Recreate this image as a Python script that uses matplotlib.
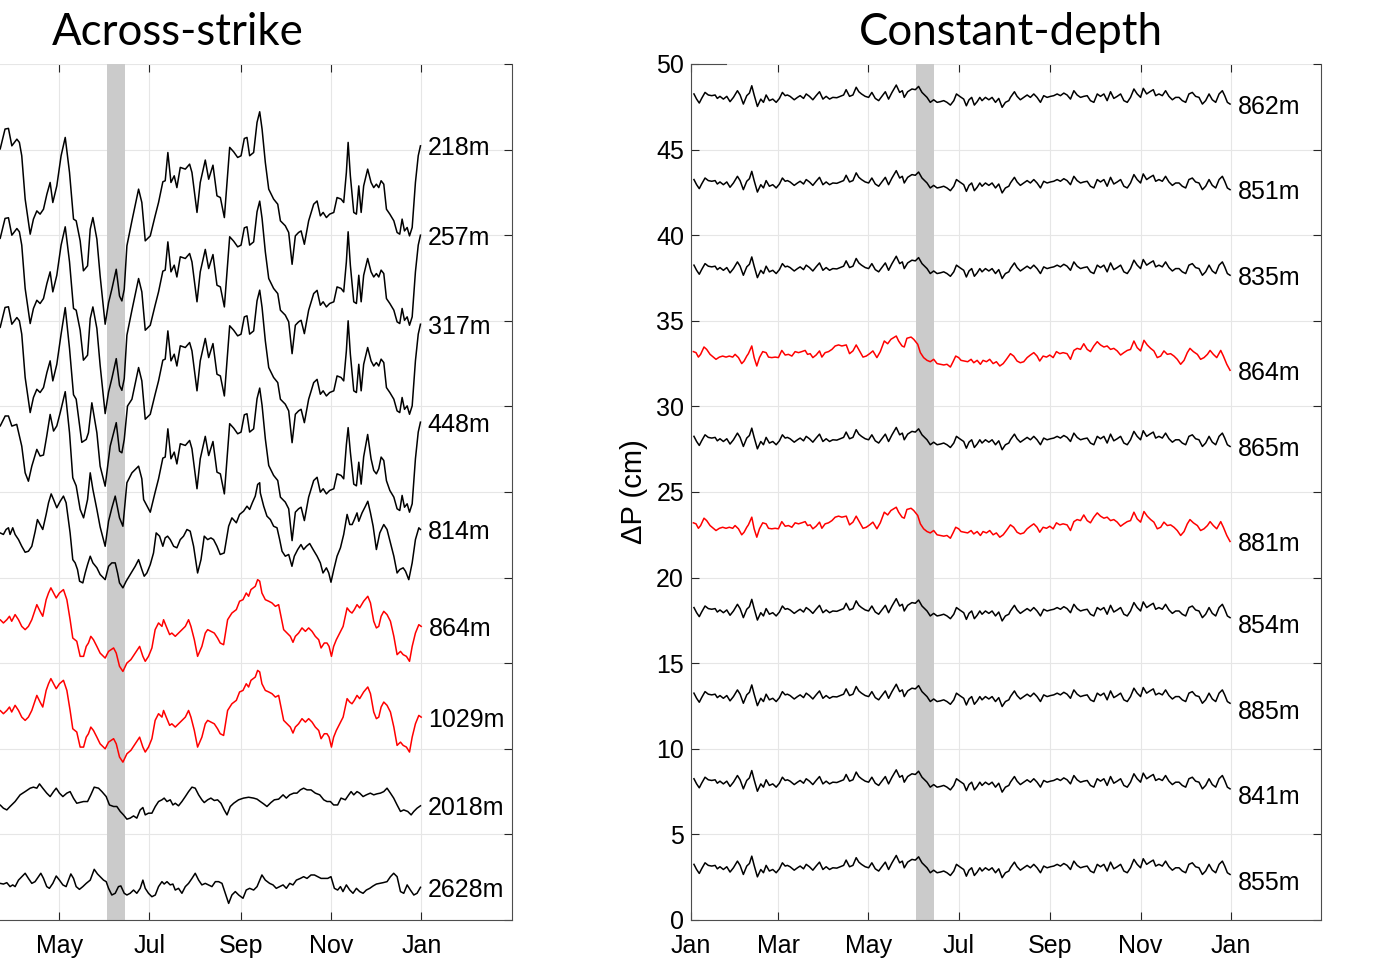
import numpy as np
import matplotlib
matplotlib.use("Agg")
import matplotlib.pyplot as plt

# ---------------- axis / calendar ----------------
month_ticks = [0, 59, 120, 181, 243, 304, 365]
month_labels = ["Jan", "Mar", "May", "Jul", "Sep", "Nov", "Jan"]
event_window = (152.4, 164.6)          # shaded event (day of year)
dp_ticks = list(range(0, 51, 5))

# ---------------- Across-strike section ----------------
# upper-slope signal (day, dP anomaly in cm), shared by 218 m and 257 m
upper_218 = [
    (75, 4.9), (80.1, 5.03), (83.4, 6.2), (85.7, 6.24), (88.0, 5.22), (91.4, 5.61), (93.1, 5.42),
    (94.7, 4.64), (97.0, 2.11), (100.4, 0.06), (102.6, 0.94), (104.9, 1.42), (107.1, 1.23),
    (109.4, 1.52), (111.7, 2.4), (113.9, 3.08), (115.7, 1.91), (118.4, 2.88), (121.3, 4.64),
    (124.1, 5.71), (127.0, 3.66), (129.7, 0.94), (131.5, 0.84), (134.2, -0.33), (136.4, -2.08),
    (139.2, -1.79), (141.0, 0.35), (142.8, 1.03), (145.5, -0.23), (147.7, -2.38), (151.1, -5.2),
    (153.4, -3.94), (155.6, -3.16), (158.6, -1.99), (160.8, -3.55), (162.4, -3.84), (164.0, -3.16),
    (165.8, -0.62), (169.2, 0.84), (173.7, 2.69), (175.9, 1.91), (178.2, -0.33), (181.6, -0.04),
    (184.9, 1.13), (187.2, 1.91), (190.1, 3.12), (191.7, 3.18), (193.5, 4.83), (195.6, 3.08),
    (197.8, 3.47), (199.6, 2.78), (201.9, 3.96), (205.3, 3.86), (208.2, 4.15), (209.8, 3.66),
    (213.2, 1.33), (215.4, 3.08), (218.8, 4.39), (221.1, 3.27), (224.0, 4.09), (226.7, 2.3),
    (229.0, 2.2), (231.7, 1.03), (235.3, 5.13), (238.0, 4.87), (240.7, 4.54), (243.0, 4.64),
    (245.2, 5.65), (247.0, 5.71), (248.8, 4.64), (251.5, 4.83), (253.8, 6.59), (255.6, 7.21),
    (257.2, 6.2), (259.4, 4.25), (261.7, 2.69), (265.0, 2.11), (267.8, 1.81), (269.6, 0.84),
    (272.9, 0.55), (275.2, 0.16), (277.5, -1.7), (279.7, -0.04), (281.9, 0.16), (283.6, 0.25),
    (285.8, -0.53), (288.7, 0.84), (292.1, 1.81), (294.4, 2.0), (296.6, 1.13), (298.5, 1.33),
    (300.7, 1.03), (302.9, 1.23), (305.7, 1.33), (307.9, 2.2), (310.6, 2.11), (312.4, 1.91),
    (314.2, 3.66), (315.4, 5.42), (316.9, 3.47), (319.2, 1.33), (321.0, 1.23), (322.6, 2.88),
    (324.2, 1.33), (325.9, 2.88), (328.6, 3.86), (330.9, 3.08), (332.7, 2.78), (334.5, 2.98),
    (336.1, 2.78), (337.7, 3.18), (339.5, 2.98), (341.3, 1.52), (343.6, 1.23), (346.3, 0.84),
    (348.5, 0.16), (350.3, 0.06), (351.9, 0.94), (353.5, 0.25), (355.3, 0.45), (356.9, -0.04),
    (358.7, 0.45), (360.9, 3.08), (362.8, 4.64), (364.3, 5.22),
]

upper_317 = [
    (75, 4.9), (80.1, 5.03), (83.4, 6.2), (85.7, 6.24), (88.0, 5.22), (91.4, 5.61), (93.1, 5.42),
    (94.7, 4.64), (97.0, 2.11), (100.4, 0.06), (102.6, 0.94), (104.9, 1.42), (107.1, 1.23),
    (109.4, 1.52), (111.7, 2.4), (113.9, 3.08), (115.7, 1.91), (118.4, 2.88), (121.3, 4.64),
    (124.1, 6.19), (127.0, 3.8), (129.7, 1.1), (131.5, 0.84), (135.3, -1.68), (138.3, -1.51),
    (139.8, -1.12), (142.1, 0.63), (145.5, -1.12), (147.7, -3.07), (151.1, -4.24), (154.5, -1.9),
    (158.6, -0.53), (160.8, -2.19), (162.4, -2.29), (164.0, -1.51), (166.2, 0.44), (169.2, 0.84),
    (173.7, 2.69), (175.9, 1.91), (178.2, -0.33), (181.6, -0.04),
    (184.9, 1.13), (187.2, 1.91), (190.1, 3.12), (191.7, 3.18), (193.5, 4.83), (195.6, 3.08),
    (197.8, 3.47), (199.6, 2.78), (201.9, 3.96), (205.3, 3.86), (208.2, 4.15), (209.8, 3.66),
    (213.2, 1.33), (215.4, 3.08), (218.8, 4.39), (221.1, 3.27), (224.0, 4.09), (226.7, 2.3),
    (229.0, 2.2), (231.7, 1.03), (235.3, 5.13), (238.0, 4.87), (240.7, 4.54), (243.0, 4.64),
    (245.2, 5.65), (247.0, 5.71), (248.8, 4.64), (251.5, 4.83), (253.8, 6.59), (255.6, 7.21),
    (257.2, 6.2), (259.4, 4.25), (261.7, 2.69), (265.0, 2.11), (267.8, 1.81), (269.6, 0.84),
    (272.9, 0.55), (275.2, 0.16), (277.5, -1.7), (279.7, -0.04), (281.9, 0.16), (283.6, 0.25),
    (285.8, -0.53), (288.7, 0.84), (292.1, 1.81), (294.4, 2.0), (296.6, 1.13), (298.5, 1.33),
    (300.7, 1.03), (302.9, 1.23), (305.7, 1.33), (307.9, 2.2), (310.6, 2.11), (312.4, 1.91),
    (314.2, 3.66), (315.4, 5.42), (316.9, 3.47), (319.2, 1.33), (321.0, 1.23), (322.6, 2.88),
    (324.2, 1.33), (325.9, 2.88), (328.6, 3.86), (330.9, 3.08), (332.7, 2.78), (334.5, 2.98),
    (336.1, 2.78), (337.7, 3.18), (339.5, 2.98), (341.3, 1.52), (343.6, 1.23), (346.3, 0.84),
    (348.5, 0.16), (350.3, 0.06), (351.9, 0.94), (353.5, 0.25), (355.3, 0.45), (356.9, -0.04),
    (358.7, 0.45), (360.9, 3.08), (362.8, 4.64), (364.3, 5.22),
]

upper_448 = [
    (75, 4.9), (80.1, 4.99), (83.5, 5.58), (85.7, 5.58), (88.0, 4.99), (91.3, 5.09), (94.7, 3.82),
    (97.0, 2.26), (99.2, 1.77), (101.5, 2.65), (104.9, 3.63), (107.1, 3.24), (109.4, 3.3),
    (111.6, 4.41), (113.9, 5.67), (116.2, 4.7), (118.4, 5.0), (120.7, 5.77), (124.1, 7.0),
    (127.0, 4.6), (129.2, 1.97), (131.5, 1.5), (134.2, 0.12), (136.5, -0.37), (139.2, 0.7),
    (141.0, 2.26), (142.8, 1.29), (145.5, 0.12), (147.7, -0.9), (151.1, -2.03), (153.4, -0.56),
    (155.6, 0.2), (157.9, 0.9), (160.8, -0.37), (163.1, -0.86), (165.8, 1.68), (169.2, 2.26),
    (173.7, 2.65), (175.9, 1.91), (177.1, 0.7), (181.6, -0.04),
    (184.9, 1.13), (187.2, 1.91), (190.1, 3.12), (191.7, 3.18), (193.5, 4.83), (195.6, 3.08),
    (197.8, 3.47), (199.6, 2.78), (201.9, 3.96), (205.3, 3.86), (208.2, 4.15), (209.8, 3.66),
    (213.2, 1.33), (215.4, 3.08), (218.8, 4.39), (221.1, 3.27), (224.0, 4.09), (226.7, 2.3),
    (229.0, 2.2), (231.7, 1.03), (235.3, 5.13), (238.0, 4.87), (240.7, 4.54), (243.0, 4.64),
    (245.2, 5.65), (247.0, 5.71), (248.8, 4.64), (251.5, 4.83), (253.8, 6.59), (255.6, 7.21),
    (257.2, 6.2), (259.4, 4.25), (261.7, 2.69), (265.0, 2.11), (267.8, 1.81), (269.6, 0.84),
    (272.9, 0.55), (275.2, 0.16), (277.5, -1.7), (279.7, -0.04), (281.9, 0.16), (283.6, 0.25),
    (285.8, -0.53), (288.7, 0.84), (292.1, 1.81), (294.4, 2.0), (296.6, 1.13), (298.5, 1.33),
    (300.7, 1.03), (302.9, 1.23), (305.7, 1.33), (307.9, 2.2), (310.6, 2.11), (312.4, 1.91),
    (314.2, 3.9), (315.4, 4.9), (316.9, 3.47), (319.2, 1.6), (321.0, 1.5), (322.6, 2.88),
    (324.2, 1.6), (325.9, 3.2), (328.6, 4.5), (330.9, 3.08), (332.7, 2.4), (334.5, 2.2),
    (336.1, 2.5), (337.7, 3.18), (339.5, 2.98), (341.3, 1.8), (343.6, 1.23), (346.3, 0.84),
    (348.5, 0.16), (350.3, 0.06), (351.9, 0.94), (353.5, 0.25), (355.3, 0.45), (356.9, -0.04),
    (358.7, 0.45), (360.9, 3.08), (362.8, 4.64), (364.3, 5.22),
]

slope_814 = [
    (75, 22.6), (80.1, 22.61), (82.3, 22.52), (84.1, 22.81), (85.7, 22.91), (86.8, 22.52),
    (88.6, 22.91), (90.2, 22.52), (92.5, 22.22), (94.7, 21.83), (97.0, 21.48), (99.2, 21.54),
    (101.5, 21.83), (103.8, 22.71), (105.3, 23.39), (107.1, 23.1), (108.9, 22.81), (111.2, 23.69),
    (112.8, 24.37), (114.6, 24.89), (116.2, 24.56), (118.4, 24.08), (120.7, 24.46), (122.9, 24.76),
    (124.7, 24.37), (127.4, 22.61), (129.2, 21.05), (130.8, 20.86), (132.4, 20.47), (133.8, 19.79),
    (136.0, 19.69), (137.6, 20.27), (139.2, 20.76), (141.0, 21.25), (142.8, 20.86), (145.5, 20.57),
    (147.7, 20.18), (151.1, 19.88), (153.4, 20.66), (155.6, 20.86), (157.9, 20.86), (159.5, 20.27),
    (160.8, 19.69), (163.1, 19.4), (165.3, 19.79), (168.0, 20.18), (171.4, 20.66), (173.7, 21.05),
    (175.9, 20.47), (177.5, 20.08), (179.3, 20.27), (181.6, 20.76), (183.8, 21.44), (185.6, 22.61),
    (187.9, 22.42), (190.1, 21.83), (191.7, 22.32), (193.3, 22.42), (195.1, 22.22), (197.4, 21.83),
    (199.6, 21.74), (201.9, 22.22), (204.1, 22.42), (206.4, 22.81), (208.6, 22.71), (210.9, 21.83),
    (213.6, 20.27), (215.9, 21.05), (218.1, 22.42), (220.4, 22.22), (222.6, 22.32), (224.4, 22.22),
    (226.7, 21.83), (228.9, 21.35), (231.6, 21.44), (234.6, 23.0), (236.8, 23.49), (239.8, 23.2),
    (242.0, 23.69), (244.7, 23.88), (247.0, 24.17), (248.8, 23.98), (250.6, 24.37), (252.6, 24.76),
    (254.2, 25.44), (255.6, 25.54), (256.0, 24.95), (258.3, 24.17), (260.5, 23.59), (262.8, 23.39),
    (265.0, 23.0), (267.3, 22.91), (269.1, 22.22), (270.7, 21.54), (272.9, 21.25), (275.2, 21.35),
    (277.4, 20.66), (279.0, 21.25), (281.3, 21.64), (283.5, 21.93), (285.3, 21.64), (287.2, 21.83),
    (289.4, 21.99), (291.7, 21.64), (294.4, 21.25), (296.6, 20.86), (298.4, 20.27), (300.7, 20.57),
    (302.3, 20.27), (303.8, 19.73), (305.7, 20.47), (307.9, 21.25), (310.2, 21.74), (312.4, 22.52),
    (314.7, 23.69), (316.5, 23.1), (318.1, 23.1), (319.6, 23.39), (321.4, 23.78), (322.6, 23.29),
    (324.8, 23.78), (327.1, 24.17), (328.7, 24.46), (330.5, 23.78), (332.3, 23.0), (334.5, 21.64),
    (336.8, 22.61), (339.5, 23.1), (341.7, 22.81), (344.0, 22.03), (346.3, 21.25), (348.5, 20.27),
    (350.3, 20.47), (352.6, 20.57), (354.2, 20.37), (356.4, 19.88), (358.7, 20.86), (360.9, 22.22),
    (363.2, 22.91), (364.3, 22.81),
]

mid_slope_864 = [
    (75, 17.5), (80.1, 17.54), (82.3, 17.35), (84.6, 17.54), (86.4, 17.74), (87.9, 17.45),
    (90.2, 17.84), (92.5, 17.54), (94.7, 17.15), (97.0, 16.96), (99.2, 17.15), (101.5, 17.54),
    (104.9, 18.42), (107.1, 18.03), (108.9, 17.74), (111.2, 18.71), (112.8, 19.1), (114.4, 19.4),
    (116.2, 19.1), (118.0, 18.81), (120.2, 19.1), (122.9, 19.3), (125.2, 18.71), (127.4, 17.54),
    (129.2, 16.47), (131.9, 16.28), (134.2, 15.4), (136.5, 15.4), (138.3, 15.98), (139.8, 16.18),
    (141.4, 16.57), (143.2, 16.37), (145.5, 15.98), (147.7, 15.59), (151.1, 15.3), (153.4, 15.69),
    (156.8, 15.89), (158.6, 15.59), (160.8, 14.82), (163.1, 14.52), (165.8, 15.01), (168.5, 15.21),
    (171.4, 15.59), (174.4, 15.98), (176.6, 15.4), (178.2, 15.11), (180.4, 15.4), (182.7, 15.89),
    (184.9, 16.96), (187.2, 17.35), (189.5, 17.15), (190.6, 17.54), (192.4, 17.15), (194.7, 16.67),
    (196.2, 16.76), (198.5, 16.57), (201.9, 16.86), (205.3, 17.15), (207.5, 17.54), (209.1, 17.15),
    (211.4, 16.37), (213.6, 15.4), (216.5, 15.98), (218.8, 16.76), (220.4, 16.96), (222.6, 16.86),
    (224.9, 16.76), (227.1, 16.47), (228.9, 16.18), (231.2, 16.08), (233.9, 17.54), (236.8, 17.93),
    (239.8, 18.13), (242.0, 18.62), (244.3, 18.71), (246.5, 19.1), (248.1, 18.91), (249.7, 19.3),
    (252.6, 19.49), (254.2, 19.88), (255.6, 19.79), (257.1, 19.1), (259.4, 18.71), (261.7, 18.62),
    (263.9, 18.52), (266.2, 18.32), (268.4, 18.42), (270.0, 17.74), (271.8, 16.96), (274.1, 16.76),
    (276.3, 16.57), (278.1, 16.22), (279.7, 16.57), (281.9, 16.76), (284.2, 17.06), (286.5, 16.86),
    (288.7, 17.06), (291.0, 16.86), (293.2, 16.57), (295.5, 16.37), (297.1, 15.89), (299.3, 16.18),
    (301.1, 16.18), (302.5, 15.98), (304.1, 15.4), (305.6, 15.98), (307.4, 16.37), (309.7, 16.76),
    (312.0, 17.15), (314.7, 18.23), (316.5, 18.03), (318.0, 17.93), (319.6, 18.13), (321.4, 18.42),
    (323.2, 18.23), (325.9, 18.62), (328.7, 18.91), (330.5, 18.52), (332.7, 17.45), (334.5, 17.06),
    (336.1, 17.15), (337.7, 17.74), (339.5, 18.03), (341.7, 17.84), (344.0, 17.45), (346.3, 16.57),
    (348.5, 15.5), (350.8, 15.69), (352.6, 15.5), (354.8, 15.4), (356.9, 15.11), (358.7, 15.98),
    (360.9, 16.76), (363.2, 17.25), (364.8, 17.15),
]
mid_depths = ["864m", "1029m"]
mid_offsets = [0.0, -5.3]

deep_2018 = [
    (75, 6.7), (80.1, 6.72), (82.3, 6.53), (84.6, 6.43), (86.8, 6.63), (90.2, 6.92), (93.6, 7.31),
    (97.0, 7.5), (100.4, 7.7), (102.6, 7.76), (104.9, 7.7), (106.7, 7.95), (108.9, 7.7),
    (111.6, 7.41), (113.9, 7.21), (116.2, 7.5), (118.0, 7.7), (120.2, 7.41), (122.5, 7.21),
    (125.2, 7.41), (127.4, 7.5), (129.7, 7.11), (131.9, 6.82), (136.5, 6.92), (139.2, 6.92),
    (141.4, 7.31), (143.7, 7.76), (146.6, 7.7), (148.9, 7.5), (151.8, 7.21), (154.0, 6.72),
    (156.8, 6.63), (159.0, 6.63), (161.3, 6.34), (163.5, 6.14), (165.8, 5.89), (168.0, 5.95),
    (170.3, 6.08), (172.5, 5.95), (174.8, 6.43), (176.6, 6.57), (178.2, 6.14), (180.4, 6.24),
    (182.7, 6.24), (185.0, 6.63), (187.2, 6.92), (189.5, 7.02), (191.0, 7.12), (192.9, 6.92),
    (195.1, 7.02), (196.9, 6.72), (198.5, 6.82), (200.7, 6.67), (203.0, 6.92), (205.3, 7.21),
    (207.5, 7.5), (209.8, 7.76), (212.0, 7.7), (214.3, 7.31), (216.5, 7.02), (218.1, 6.86),
    (220.4, 7.02), (222.6, 7.12), (224.9, 6.98), (227.1, 7.02), (229.4, 6.82), (231.6, 6.43),
    (233.5, 6.14), (235.7, 6.63), (238.0, 6.82), (241.3, 7.02), (244.7, 7.12), (248.1, 7.17),
    (251.5, 7.12), (253.8, 7.06), (256.0, 6.92), (258.3, 6.78), (260.5, 6.63), (263.2, 6.86),
    (265.5, 7.02), (268.4, 7.06), (271.4, 7.31), (273.6, 7.12), (275.9, 7.31), (278.6, 7.41),
    (280.8, 7.41), (283.1, 7.6), (285.3, 7.7), (287.6, 7.6), (290.3, 7.6), (293.2, 7.41),
    (296.2, 7.31), (298.9, 7.02), (301.1, 6.92), (303.4, 6.92), (305.6, 6.72), (308.3, 6.72),
    (310.6, 7.12), (313.5, 7.02), (315.8, 7.31), (317.4, 7.5), (319.2, 7.31), (321.4, 7.5),
    (323.2, 7.41), (325.5, 7.21), (327.7, 7.31), (330.4, 7.41), (332.7, 7.31), (334.9, 7.37),
    (337.2, 7.41), (339.5, 7.5), (341.7, 7.7), (344.0, 7.41), (346.2, 7.12), (348.5, 6.72),
    (350.8, 6.34), (353.0, 6.43), (355.7, 6.34), (358.0, 6.14), (359.8, 6.34), (362.0, 6.53),
    (364.3, 6.67),
]

deep_2628 = [
    (75, 2.1), (80.1, 2.14), (82.3, 2.1), (84.6, 2.18), (86.8, 1.95), (88.6, 2.05), (90.2, 1.95),
    (92.5, 2.33), (94.7, 2.53), (97.0, 2.73), (99.2, 2.43), (101.5, 2.14), (103.7, 2.24),
    (106.0, 2.53), (107.6, 2.73), (109.4, 2.43), (111.6, 1.95), (113.4, 1.85), (115.7, 2.14),
    (118.0, 2.57), (120.2, 2.33), (122.5, 2.05), (124.7, 1.95), (126.3, 2.33), (127.9, 2.69),
    (129.7, 2.43), (131.5, 1.95), (133.7, 1.79), (136.0, 1.95), (138.3, 2.14), (141.0, 2.33),
    (143.7, 2.96), (145.9, 2.69), (147.7, 2.53), (150.0, 2.33), (151.8, 2.24), (153.4, 1.85),
    (155.6, 1.46), (157.9, 1.56), (160.1, 1.95), (161.7, 1.99), (164.0, 1.56), (165.8, 1.46),
    (168.0, 1.56), (170.3, 1.75), (172.5, 1.56), (174.8, 1.85), (176.6, 2.33), (178.2, 1.85),
    (180.4, 1.56), (182.7, 1.36), (185.0, 1.46), (187.2, 1.95), (189.5, 2.24), (191.0, 2.1),
    (192.9, 2.24), (195.1, 2.05), (196.9, 2.1), (198.5, 1.75), (200.7, 1.85), (203.0, 1.56),
    (205.3, 1.95), (207.5, 2.14), (209.8, 2.43), (212.0, 2.73), (214.3, 2.33), (216.5, 2.05),
    (218.8, 2.14), (221.0, 2.05), (223.3, 1.95), (225.6, 2.24), (227.8, 2.24), (230.1, 2.14),
    (232.3, 1.56), (234.6, 0.97), (236.8, 1.46), (239.1, 1.66), (241.4, 1.46), (244.3, 1.27),
    (246.5, 1.75), (248.8, 1.85), (251.5, 1.75), (253.8, 1.95), (255.6, 2.33), (257.1, 2.63),
    (259.4, 2.33), (262.3, 2.14), (264.6, 2.05), (266.8, 1.85), (269.1, 1.95), (271.4, 2.05),
    (273.6, 1.85), (275.9, 2.14), (278.1, 2.05), (280.4, 2.33), (283.1, 2.43), (285.3, 2.53),
    (287.6, 2.43), (290.3, 2.63), (292.6, 2.63), (294.8, 2.53), (297.1, 2.43), (299.3, 2.43),
    (301.6, 2.43), (303.8, 2.53), (306.1, 1.85), (308.3, 1.75), (310.2, 1.95), (311.9, 1.66),
    (314.2, 2.05), (316.5, 1.75), (318.7, 1.56), (321.0, 1.85), (323.2, 1.66), (325.5, 1.56),
    (327.7, 1.75), (330.0, 1.85), (332.3, 1.99), (334.5, 2.1), (336.8, 2.14), (339.0, 2.18),
    (341.7, 2.24), (344.0, 2.53), (346.2, 2.73), (348.5, 2.53), (350.8, 1.66), (353.0, 1.56),
    (355.3, 2.05), (357.5, 1.75), (359.8, 1.46), (362.0, 1.56), (364.3, 1.91),
]

# ---------------- Constant-depth section ----------------
# common signal at ~850 m (day, dP anomaly in cm)
const_black = [
    (2.0, 0.25), (3.8, -0.05), (5.6, -0.28), (7.2, -0.01), (9.5, 0.34), (11.7, 0.19), (14.0, 0.15),
    (16.3, 0.19), (17.8, -0.01), (19.6, 0.11), (21.9, -0.05), (24.2, 0.11), (26.4, -0.20),
    (28.7, 0.05), (31.4, 0.44), (33.2, 0.19), (35.4, -0.34), (37.7, 0.15), (39.5, 0.30),
    (41.1, 0.73), (42.7, 0.19), (44.9, -0.48), (47.2, -0.05), (49.0, -0.24), (50.8, 0.19),
    (53.0, -0.14), (55.3, -0.05), (57.6, -0.24), (59.8, -0.01), (61.8, 0.34), (63.7, 0.15),
    (65.2, 0.19), (67.0, 0.11), (69.8, -0.09), (72.0, 0.05), (73.8, 0.15), (76.1, -0.01),
    (77.9, 0.25), (80.1, 0.11), (82.4, -0.09), (84.6, 0.15), (86.9, 0.38), (89.2, -0.05),
    (91.4, 0.11), (93.7, -0.05), (95.9, 0.05), (98.6, 0.03), (100.9, 0.11), (103.2, 0.19),
    (104.9, 0.50), (107.2, 0.11), (109.5, 0.19), (111.7, 0.64), (113.5, 0.38), (115.3, 0.25),
    (117.8, 0.11), (120.1, 0.05), (122.3, 0.34), (124.6, -0.01), (126.9, -0.14), (129.1, 0.11),
    (131.4, 0.38), (133.6, -0.05), (135.9, 0.34), (138.8, 0.77), (141.1, 0.34), (142.9, 0.44),
    (144.2, 0.05), (146.5, 0.38), (149.4, 0.54), (151.7, 0.50), (153.9, 0.69), (156.2, 0.34),
    (159.6, 0.05), (161.8, -0.24), (164.1, -0.09), (166.4, -0.24), (168.6, -0.20), (170.9, -0.14),
    (173.1, -0.24), (175.4, -0.40), (177.7, -0.14), (179.5, 0.25), (181.7, 0.11), (184.4, -0.05),
    (186.2, -0.44), (188.0, -0.09), (189.8, 0.05), (191.6, -0.40), (193.5, -0.20), (195.3, 0.05),
    (196.8, -0.14), (199.1, 0.05), (201.4, -0.09), (203.6, 0.05), (205.9, -0.24), (208.1, -0.01),
    (210.4, -0.53), (212.6, -0.24), (214.9, -0.14), (216.0, 0.05), (218.7, 0.38), (220.5, 0.11),
    (222.7, -0.09), (225.0, 0.05), (227.3, 0.19), (229.5, 0.05), (231.8, 0.25), (234.0, 0.05),
    (236.3, -0.24), (238.5, 0.15), (240.8, 0.05), (243.1, 0.11), (245.3, 0.15), (247.6, 0.25),
    (249.8, 0.15), (252.1, 0.30), (254.3, 0.19), (256.6, -0.05), (258.9, 0.44), (261.1, 0.19),
    (263.4, 0.05), (265.6, 0.11), (267.9, 0.15), (270.1, -0.14), (272.4, -0.24), (274.7, 0.25),
    (276.9, 0.11), (279.2, 0.25), (281.4, -0.14), (283.7, 0.38), (285.9, -0.01), (288.2, 0.11),
    (290.5, 0.25), (292.7, -0.14), (295.0, -0.24), (297.2, 0.05), (299.5, 0.54), (301.7, 0.25),
    (304.0, 0.05), (305.8, 0.58), (308.1, 0.25), (310.3, 0.38), (312.6, 0.50), (314.2, 0.15),
    (316.4, 0.25), (318.7, 0.15), (320.9, 0.44), (323.2, 0.11), (325.5, -0.09), (327.7, 0.05),
    (330.0, 0.05), (332.2, -0.14), (334.5, -0.24), (336.7, 0.25), (339.0, 0.34), (341.2, 0.11),
    (343.5, 0.05), (345.8, -0.34), (348.0, -0.14), (350.3, 0.25), (352.5, -0.09), (354.8, -0.24),
    (357.1, 0.25), (359.3, 0.44), (360.9, 0.15), (362.7, -0.24), (364.5, -0.34),
]

const_red = [
    (1.6, 0.20), (3.4, 0.14), (5.0, -0.12), (6.5, 0.04), (8.8, 0.47), (10.6, 0.33), (12.9, 0.04),
    (15.1, -0.12), (16.9, -0.25), (19.2, -0.12), (21.4, -0.06), (23.7, -0.12), (25.9, -0.06),
    (28.2, -0.12), (29.8, 0.04), (32.1, -0.15), (34.3, -0.50), (35.9, -0.35), (37.7, -0.06),
    (38.8, 0.08), (41.1, 0.53), (42.7, -0.15), (44.5, -0.64), (46.3, -0.15), (48.5, 0.20),
    (50.8, 0.14), (52.4, -0.12), (54.6, -0.15), (56.9, -0.12), (59.1, -0.15), (61.4, 0.27),
    (63.7, 0.00), (65.9, 0.04), (68.2, -0.06), (70.4, 0.20), (72.7, 0.14), (74.9, 0.20),
    (77.2, 0.27), (78.8, 0.04), (80.6, 0.08), (82.4, -0.15), (84.6, 0.00), (86.9, 0.24),
    (88.5, -0.12), (90.7, 0.14), (93.0, 0.20), (95.3, 0.33), (97.5, 0.53), (99.8, 0.59),
    (102.0, 0.53), (105.0, 0.59), (107.2, 0.08), (109.5, 0.24), (111.7, 0.59), (114.0, 0.24),
    (116.3, -0.12), (118.5, -0.06), (120.8, 0.08), (123.0, 0.24), (125.7, -0.15), (128.0, 0.20),
    (130.7, 0.82), (133.0, 0.66), (135.2, 0.92), (138.8, 1.11), (140.4, 0.82), (142.7, 0.53),
    (144.2, 0.47), (146.0, 0.98), (148.8, 1.05), (150.6, 0.92), (153.3, 0.63), (155.1, 0.14),
    (157.3, -0.15), (159.6, -0.31), (161.8, -0.39), (164.1, -0.25), (166.4, -0.50), (168.6, -0.54),
    (170.9, -0.58), (173.1, -0.54), (175.4, -0.70), (177.2, -0.39), (179.0, -0.06), (181.0, -0.15),
    (182.6, -0.31), (184.9, -0.35), (187.1, -0.39), (189.4, -0.25), (191.2, -0.45), (193.5, -0.31),
    (195.7, -0.54), (197.5, -0.31), (199.8, -0.39), (202.0, -0.25), (204.3, -0.50), (206.5, -0.39),
    (208.8, -0.64), (211.1, -0.50), (213.3, -0.25), (216.0, 0.08), (218.2, -0.06), (220.5, -0.35),
    (222.7, -0.45), (225.0, -0.39), (227.3, -0.15), (229.5, 0.00), (231.8, 0.14), (234.0, -0.06),
    (235.8, -0.35), (238.1, -0.06), (240.4, -0.12), (242.6, 0.00), (244.9, -0.15), (247.1, 0.20),
    (249.4, 0.08), (251.6, 0.14), (254.3, 0.08), (256.6, -0.25), (258.9, 0.27), (261.1, 0.39),
    (263.4, 0.33), (265.6, 0.66), (267.9, 0.33), (270.1, 0.20), (272.4, 0.53), (274.7, 0.78),
    (276.9, 0.59), (279.2, 0.47), (281.4, 0.53), (283.7, 0.33), (285.9, 0.39), (288.2, 0.24),
    (290.5, 0.00), (292.7, 0.14), (295.0, 0.27), (297.2, 0.33), (299.5, 0.82), (301.7, 0.43),
    (304.0, 0.24), (306.3, 0.86), (308.5, 0.59), (310.8, 0.39), (313.0, 0.24), (315.3, -0.15),
    (317.6, -0.06), (319.8, 0.24), (322.1, 0.04), (324.3, 0.08), (326.6, -0.06), (328.8, -0.25),
    (331.1, -0.54), (333.4, -0.31), (335.6, 0.14), (337.4, 0.39), (339.7, 0.20), (342.4, 0.04),
    (344.6, -0.25), (346.9, -0.15), (349.2, 0.04), (351.0, 0.27), (353.2, 0.04), (355.5, -0.15),
    (358.2, 0.27), (360.0, -0.06), (362.3, -0.54), (364.5, -0.89),
]

const_depths = ["862m", "851m", "835m", "864m", "865m", "881m", "854m", "885m", "841m", "855m"]
const_offsets = [48, 43, 38, 33, 28, 23, 18, 13, 8, 3]
const_is_red = [False, False, False, True, False, True, False, False, False, False]

# ---------------- styling ----------------
BLACK, RED = "#000000", "#ff0000"
TXT = 18
plt.rcParams["font.family"] = ["Liberation Sans", "DejaVu Sans"]

fig = plt.figure(figsize=(13.81, 9.6), dpi=100)
fig.patch.set_facecolor("white")
ax_l = fig.add_axes([-0.08566, 0.041667, 0.45619, 0.891667])
ax_r = fig.add_axes([0.50036, 0.041667, 0.45619, 0.891667])


def style_axes(ax, show_left_labels=True):
    ax.set_xlim(0, 426)
    ax.set_ylim(0, 50)
    ax.axvspan(*event_window, color="#cbcbcb", lw=0, zorder=1)
    ax.set_xticks(month_ticks)
    ax.set_yticks(dp_ticks)
    ax.grid(True, color="#e6e6e6", lw=0.8)
    ax.set_axisbelow(True)
    ax.tick_params(direction="in", length=6, width=0.8, color="#262626",
                   top=True, right=True, labelsize=TXT, labelcolor="black")
    ax.tick_params(axis="x", pad=10)
    ax.tick_params(axis="y", pad=5, labelleft=show_left_labels)
    for side in ("left", "right", "bottom", "top"):
        ax.spines[side].set_color("#4d4d4d")
        ax.spines[side].set_linewidth(0.8)
    ax.spines["top"].set_bounds(0, 24)


def draw(ax, pairs, offset, color, label, label_shift=0.0):
    d = np.array([p[0] for p in pairs])
    v = np.array([p[1] for p in pairs]) + offset
    ax.plot(d, v, color=color, lw=1.1, zorder=3)
    ax.text(d[-1] + 5.0, v[-1] + label_shift, label, fontsize=TXT, ha="left",
            va="center_baseline", color="black", clip_on=False)


style_axes(ax_l, show_left_labels=False)
style_axes(ax_r)
# only the months that fall inside the visible part of the left panel get labels
ax_l.set_xticklabels([m if t >= 100 else "" for t, m in zip(month_ticks, month_labels)])
ax_r.set_xticklabels(month_labels)

# Across-strike
draw(ax_l, upper_218, 40.0, BLACK, "218m")
draw(ax_l, upper_218, 34.78, BLACK, "257m")
draw(ax_l, upper_317, 29.58, BLACK, "317m")
draw(ax_l, upper_448, 23.86, BLACK, "448m")
draw(ax_l, slope_814, 0.0, BLACK, "814m")
for name, off in zip(mid_depths, mid_offsets):
    draw(ax_l, mid_slope_864, off, RED, name)
draw(ax_l, deep_2018, 0.0, BLACK, "2018m")
draw(ax_l, deep_2628, 0.0, BLACK, "2628m")

# Constant-depth
label_shift_r = [0, 0, 0, 0, 0, 0, -0.35, -0.35, -0.35, -0.35]
for name, off, red, sh in zip(const_depths, const_offsets, const_is_red, label_shift_r):
    draw(ax_r, const_red if red else const_black, off, RED if red else BLACK, name, sh)

ax_r.set_ylabel("\u0394P (cm)", fontsize=21)
ax_r.yaxis.set_label_coords(-0.068, 0.5)

fig.text(178 / 1381, 1 - 45 / 960, "Across-strike", ha="center", va="baseline",
         fontsize=31.5, family=["Lato", "DejaVu Sans"])
fig.text(1011 / 1381, 1 - 45 / 960, "Constant-depth", ha="center", va="baseline",
         fontsize=31.5, family=["Lato", "DejaVu Sans"])

fig.savefig("out.png", dpi=100, facecolor="white")
